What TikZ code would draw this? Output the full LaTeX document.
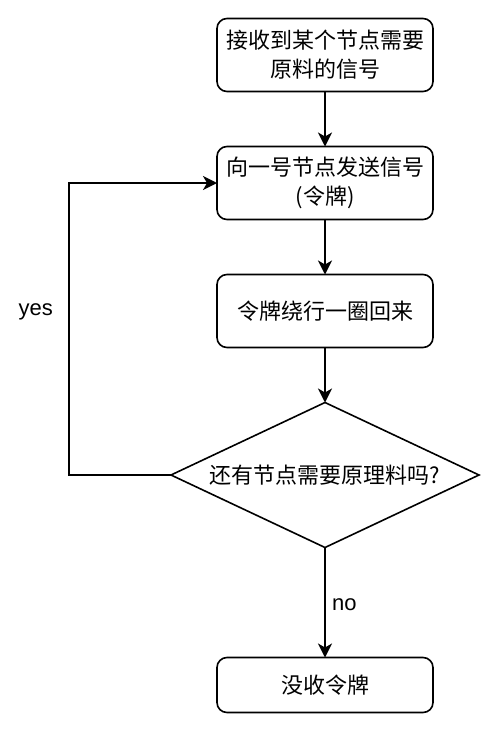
\documentclass[tikz,border=0pt]{standalone}
\usepackage{fontspec}
\setmainfont{Liberation Sans}
\newfontfamily\cjk{Noto Sans CJK SC}
\usetikzlibrary{positioning,shapes.geometric,arrows.meta}

\begin{document}
\begin{tikzpicture}[x=1pt, y=-1pt, node distance={55pt}, line width=1.6pt, >={Stealth[length=14pt,width=14pt,inset=4pt]},
    main/.style = {draw, rounded corners=10pt, outer sep=0pt, minimum width=216pt, minimum height=73pt, align=center, font=\cjk\fontsize{22pt}{29pt}\selectfont},
    choice/.style = {draw, diamond, aspect=2.1, inner sep=0pt, outer sep=0pt, minimum width=308pt, minimum height=145pt, font=\cjk\fontsize{22pt}{29pt}\selectfont}]
        \useasboundingbox (0,0) rectangle (499,731);
        \node[main] (0) at (325,55) {接收到某个节点需要\\原料的信号};
        \node[main] (1) [below=of 0] {向一号节点发送信号\\(令牌)};
        \node[main] (2) [below=of 1] {令牌绕行一圈回来};
        \node[choice] (3) [below=of 2] {还有节点需要原理料吗?};
        \node[main, minimum height=55pt] (4) [below=110pt of 3] {没收令牌};
    
        \path[->] (0) edge (1);
        \path[->] (1) edge (2);
        \path[->] (2) edge (3);
        \path[->] (3) edge node[right=3pt, pos=0.52, font=\fontsize{22pt}{26pt}\selectfont] {no} (4);
        \draw[->] (3.west) -- ++(-102,0) |- node[left=12pt, pos=0.28, font=\fontsize{22pt}{26pt}\selectfont] {yes} (1.west);
    
    \end{tikzpicture}
\end{document}
